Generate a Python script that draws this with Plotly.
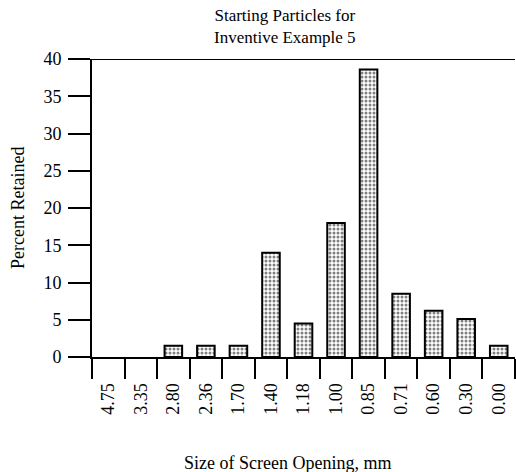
import plotly.graph_objects as go

# Sieve fractions (screen opening, mm) and percent retained on each screen
screen_sizes = ["4.75", "3.35", "2.80", "2.36", "1.70", "1.40", "1.18",
                "1.00", "0.85", "0.71", "0.60", "0.30", "0.00"]
percent_retained = [0, 0, 1.5, 1.5, 1.5, 14, 4.5, 18, 38.6, 8.5, 6.2, 5.1, 1.5]
y_ticks = [0, 5, 10, 15, 20, 25, 30, 35, 40]
title_lines = ["Starting Particles for", "Inventive Example 5"]

FONT = "Liberation Serif, Times New Roman, serif"
SIZE = 18
PLOT_TOP, PLOT_BOTTOM, PLOT_LEFT, PLOT_W = 59, 357, 92, 423


def py(pixel_y):
    """Convert a page pixel row to paper y."""
    return (PLOT_BOTTOM - pixel_y) / (PLOT_BOTTOM - PLOT_TOP)


def px(pixel_x):
    """Convert a page pixel column to paper x."""
    return (pixel_x - PLOT_LEFT) / PLOT_W


# empty fractions get no outline so nothing is drawn for them
outline_widths = [2 if v > 0 else 0 for v in percent_retained]

fig = go.Figure(
    go.Bar(
        x=screen_sizes,
        y=percent_retained,
        marker=dict(
            color="white",
            line=dict(color="black", width=outline_widths),
            pattern=dict(shape=".", fgcolor="black", bgcolor="white",
                         size=4, solidity=0.45, fillmode="overlay"),
        ),
        showlegend=False,
    )
)

annotations = [
    dict(text="<br>".join(title_lines), xref="paper", yref="paper",
         x=px(285), y=py(26.5), showarrow=False, borderpad=0,
         xanchor="center", yanchor="middle",
         font=dict(family=FONT, size=17, color="black")),
    dict(text="Percent Retained", xref="paper", yref="paper",
         x=px(18), y=0.5, textangle=-90, showarrow=False,
         xanchor="center", yanchor="middle",
         font=dict(family=FONT, size=SIZE, color="black")),
    dict(text="Size of Screen Opening, mm", xref="paper", yref="paper",
         x=px(287.5), y=py(463), showarrow=False,
         xanchor="center", yanchor="middle",
         font=dict(family=FONT, size=SIZE, color="black")),
]

fig.update_layout(
    width=516,
    height=472,
    margin=dict(l=PLOT_LEFT, r=1, t=PLOT_TOP, b=472 - PLOT_BOTTOM),
    paper_bgcolor="white",
    plot_bgcolor="white",
    bargap=0.46,
    font=dict(family=FONT, size=SIZE, color="black"),
    xaxis=dict(
        type="category",
        tickson="boundaries",
        ticks="outside",
        ticklen=20,
        tickwidth=2,
        tickcolor="black",
        tickangle=-90,
        ticklabelstandoff=17,
        showline=True,
        linecolor="black",
        linewidth=2,
        showgrid=False,
        zeroline=False,
        fixedrange=True,
    ),
    yaxis=dict(
        range=[0, 40],
        tickvals=y_ticks,
        ticks="outside",
        ticklen=22,
        tickwidth=2,
        tickcolor="black",
        ticklabelstandoff=3,
        showline=True,
        linecolor="black",
        linewidth=2,
        showgrid=False,
        zeroline=False,
        fixedrange=True,
    ),
    shapes=[
        dict(type="line", xref="x domain", yref="y", x0=0, x1=1, y0=40, y1=40,
             line=dict(color="black", width=2)),
    ],
    annotations=annotations,
)

fig.write_html("out.html")
